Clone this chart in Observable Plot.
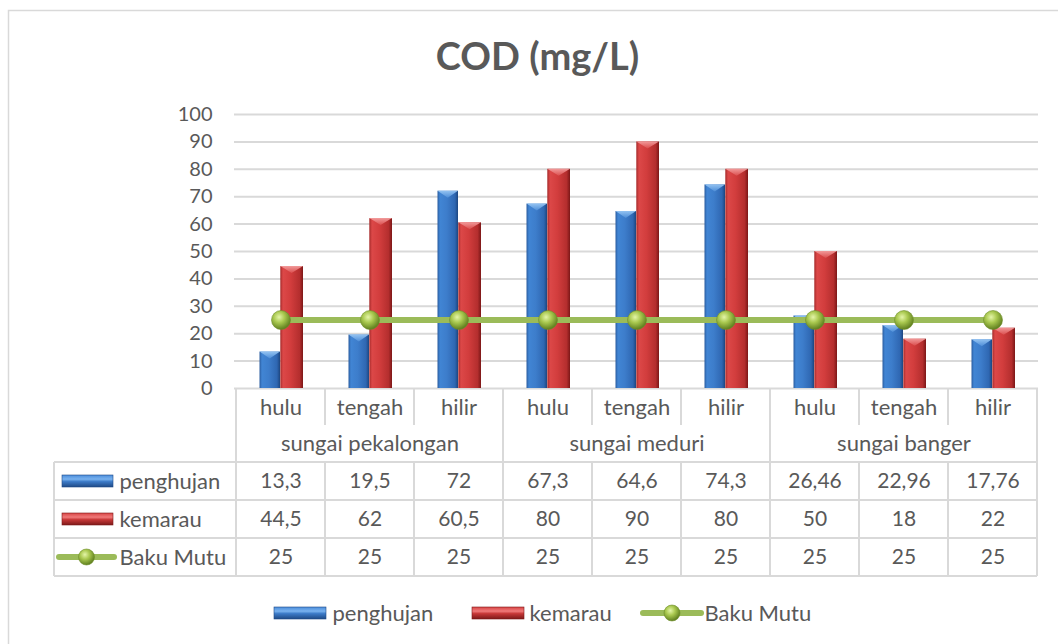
<!DOCTYPE html>
<html><head><meta charset="utf-8">
<script src="https://cdn.jsdelivr.net/npm/d3@7"></script>
<script src="https://cdn.jsdelivr.net/npm/@observablehq/plot@0.6"></script>
<style>
html,body{margin:0;background:#fff;overflow:hidden;}
#chart{position:relative;width:1058px;height:644px;overflow:hidden;}
</style></head><body><div id="chart"></div>
<script>
const stations = ["hulu","tengah","hilir","hulu","tengah","hilir","hulu","tengah","hilir"];
const rivers = ["sungai pekalongan","sungai pekalongan","sungai pekalongan","sungai meduri","sungai meduri","sungai meduri","sungai banger","sungai banger","sungai banger"];
const penghujan = [13.3,19.5,72,67.3,64.6,74.3,26.46,22.96,17.76];
const kemarau = [44.5,62,60.5,80,90,80,50,18,22];
const bakuMutu = [25,25,25,25,25,25,25,25,25];
const yTicks = [0,10,20,30,40,50,60,70,80,90,100];
const seriesNames = ["penghujan","kemarau","Baku Mutu"];
const titleText = "COD (mg/L)";

const keys = stations.map((s,i)=>`${rivers[i]}|${s}`);
const data = keys.map((k,i)=>({key:k, station:stations[i], river:rivers[i], penghujan:penghujan[i], kemarau:kemarau[i], baku:bakuMutu[i]}));
const fmt = v => String(v).replace(".", ",");
const riverGroups = d3.groups(data, d=>d.river).map(([river, rows]) => ({river, key: rows[Math.floor(rows.length/2)].key}));

const FONT = "Lato, 'Open Sans', sans-serif";
const TXT = "#595959";
const GRID = "#d9d9d9";
const ML = 234, MR = 20;
const BLUE_IN = [23.5, 45], RED_IN = [44.3, 22];

const defs = () => {
  const g = document.createElementNS("http://www.w3.org/2000/svg","defs");
  g.innerHTML = `
  <linearGradient id="gBlue" x1="0" x2="1" y1="0" y2="0">
    <stop offset="0" stop-color="#2a5c9f"/><stop offset="0.12" stop-color="#4185d4"/>
    <stop offset="0.45" stop-color="#3d7dcb"/><stop offset="0.85" stop-color="#2f67b2"/><stop offset="1" stop-color="#1d4680"/>
  </linearGradient>
  <linearGradient id="gRed" x1="0" x2="1" y1="0" y2="0">
    <stop offset="0" stop-color="#a52a2a"/><stop offset="0.12" stop-color="#dc4848"/>
    <stop offset="0.45" stop-color="#d23d3d"/><stop offset="0.85" stop-color="#b42e2e"/><stop offset="1" stop-color="#7c1717"/>
  </linearGradient>
  <linearGradient id="gBlueV" x1="0" x2="0" y1="0" y2="1">
    <stop offset="0" stop-color="#4b8ddb"/><stop offset="0.35" stop-color="#79b2ef"/><stop offset="0.55" stop-color="#3c7bc8"/><stop offset="1" stop-color="#1f4a86"/>
  </linearGradient>
  <linearGradient id="gRedV" x1="0" x2="0" y1="0" y2="1">
    <stop offset="0" stop-color="#d84545"/><stop offset="0.35" stop-color="#f07a7a"/><stop offset="0.55" stop-color="#c73838"/><stop offset="1" stop-color="#7e1a1a"/>
  </linearGradient>
  <radialGradient id="gGreen" cx="0.4" cy="0.35" r="0.65">
    <stop offset="0" stop-color="#e4f5a8"/><stop offset="0.45" stop-color="#a9c84f"/><stop offset="1" stop-color="#5f7f1f"/>
  </radialGradient>
  <linearGradient id="gTriB" x1="0" x2="0" y1="0" y2="1">
    <stop offset="0" stop-color="#9ccaf6"/><stop offset="1" stop-color="#4f8fd9"/>
  </linearGradient>
  <linearGradient id="gTriR" x1="0" x2="0" y1="0" y2="1">
    <stop offset="0" stop-color="#f5a3a3"/><stop offset="1" stop-color="#dc5050"/>
  </linearGradient>`;
  return g;
};

const common = {fontFamily: FONT, fill: TXT, fontSize: 22, lineAnchor: "middle"};
const numStyle = {fontFamily: FONT, fill: TXT, fontSize: 21, lineAnchor: "middle"};
const rowDy = [93, 131, 169];

const plot = Plot.plot({
  width: 1058, height: 644,
  marginTop: 114, marginBottom: 256, marginLeft: ML, marginRight: MR,
  style: {fontFamily: FONT, fontSize: "20px", color: TXT, background: "transparent"},
  x: {type: "band", domain: keys, padding: 0, axis: null},
  y: {domain: [0, 100], axis: null},
  marks: [
    defs,
    Plot.gridY(yTicks, {stroke: GRID, strokeOpacity: 1, strokeWidth: 2}),
    Plot.axisY(yTicks, {tickSize: 0, tickPadding: 22, label: null, fill: TXT, fontSize: 20, fontFamily: FONT}),
    Plot.barY(data, {x: "key", y: "penghujan", fill: "url(#gBlue)", insetLeft: BLUE_IN[0], insetRight: BLUE_IN[1]}),
    Plot.barY(data, {x: "key", y: "kemarau", fill: "url(#gRed)", insetLeft: RED_IN[0], insetRight: RED_IN[1]}),
    Plot.lineY(data, {x: "key", y: "baku", stroke: "#9bbb59", strokeWidth: 6}),
    Plot.dot(data, {x: "key", y: "baku", r: 9.5, fill: "url(#gGreen)", stroke: "#6f8f2a", strokeWidth: 0.6}),
    // title
    Plot.text([titleText], {frameAnchor: "top", dx: -99, dy: -57, text: d => d, fontFamily: FONT, fontWeight: "bold", fontSize: 38, fill: TXT, lineAnchor: "middle"}),
    // table: category row + group row
    Plot.text(data, {x: "key", text: "station", frameAnchor: "bottom", dy: 19, ...common}),
    Plot.text(riverGroups, {x: "key", text: "river", frameAnchor: "bottom", dy: 55, ...common}),
    // value rows
    Plot.text(data, {x: "key", text: d => fmt(d.penghujan), frameAnchor: "bottom", dy: rowDy[0], ...numStyle}),
    Plot.text(data, {x: "key", text: d => fmt(d.kemarau), frameAnchor: "bottom", dy: rowDy[1], ...numStyle}),
    Plot.text(data, {x: "key", text: d => fmt(d.baku), frameAnchor: "bottom", dy: rowDy[2], ...numStyle}),
    // row labels
    ...seriesNames.map((n, i) => Plot.text([n], {text: d => d, frameAnchor: "bottom-left", textAnchor: "start", dx: 119 - ML, dy: rowDy[i], ...common})),
    // bottom legend labels
    Plot.text([seriesNames[0]], {text: d => d, frameAnchor: "bottom-left", textAnchor: "start", dx: 332 - ML, dy: 225, ...common}),
    Plot.text([seriesNames[1]], {text: d => d, frameAnchor: "bottom-left", textAnchor: "start", dx: 529 - ML, dy: 225, ...common}),
    Plot.text([seriesNames[2]], {text: d => d, frameAnchor: "bottom-left", textAnchor: "start", dx: 704 - ML, dy: 225, ...common})
  ]
});

document.getElementById("chart").appendChild(plot);

const svg = d3.select(plot);
const xs = plot.scale("x");
const ys = plot.scale("y");
const bw = xs.bandwidth;

// bevelled tops of the bars (light triangle), positioned with the plot's scales
const caps = svg.append("g");
data.forEach(d => {
  const xb = xs.apply(d.key);
  [[d.penghujan, xb + BLUE_IN[0], xb + bw - BLUE_IN[1], "url(#gTriB)"], [d.kemarau, xb + RED_IN[0], xb + bw - RED_IN[1], "url(#gTriR)"]].forEach(([v, a, b, f]) => {
    const yt = ys.apply(v);
    const h = Math.min(7, ys.apply(0) - yt);
    caps.append("path").attr("d", `M${a},${yt}L${b},${yt}L${(a + b) / 2},${yt + h}Z`).attr("fill", f).attr("opacity", 0.9);
  });
});
svg.selectAll("g[aria-label='line'], g[aria-label='dot']").raise();

// table grid using the plot's own x scale
const yTop = 388, yCatEnd = 425, yRow1 = 462, yEnd = 576, xLeft = 54;
const xRight = xs.apply(keys[keys.length - 1]) + bw;
const grid = svg.append("g").attr("stroke", GRID).attr("stroke-width", 2).attr("fill", "none");
keys.forEach((k, i) => {
  const xb = xs.apply(k);
  const groupStart = i === 0 || rivers[i] !== rivers[i - 1];
  if (groupStart) grid.append("line").attr("x1", xb).attr("x2", xb).attr("y1", yTop).attr("y2", yEnd);
  else {
    grid.append("line").attr("x1", xb).attr("x2", xb).attr("y1", yTop).attr("y2", yCatEnd);
    grid.append("line").attr("x1", xb).attr("x2", xb).attr("y1", yRow1).attr("y2", yEnd);
  }
});
grid.append("line").attr("x1", xRight).attr("x2", xRight).attr("y1", yTop).attr("y2", yEnd);
grid.append("line").attr("x1", xLeft).attr("x2", xLeft).attr("y1", yRow1).attr("y2", yEnd);
[462, 500, 538, 576].forEach(y => grid.append("line").attr("x1", xLeft).attr("x2", xRight).attr("y1", y).attr("y2", y));

// outer chart border (top and left edges visible)
svg.append("path").attr("d", "M8.5,644V10.5H1058").attr("fill", "none").attr("stroke", GRID).attr("stroke-width", 1.5);

function swatch(g, kind, x, yc, w) {
  if (kind === 0 || kind === 1) {
    g.append("rect").attr("x", x).attr("y", yc - 6).attr("width", w).attr("height", 12)
      .attr("fill", kind === 0 ? "url(#gBlueV)" : "url(#gRedV)")
      .attr("stroke", kind === 0 ? "#1f4a86" : "#7e1a1a").attr("stroke-width", 0.6);
  } else {
    g.append("line").attr("x1", x).attr("x2", x + w).attr("y1", yc).attr("y2", yc)
      .attr("stroke", "#9bbb59").attr("stroke-width", 6).attr("stroke-linecap", "round");
    g.append("circle").attr("cx", x + w / 2).attr("cy", yc).attr("r", 8)
      .attr("fill", "url(#gGreen)").attr("stroke", "#6f8f2a").attr("stroke-width", 0.6);
  }
}
const sw = svg.append("g");
swatch(sw, 0, 62, 481, 51);
swatch(sw, 1, 62, 519, 51);
swatch(sw, 2, 59, 557, 55);
swatch(sw, 0, 274, 613, 52);
swatch(sw, 1, 472, 613, 52);
swatch(sw, 2, 643, 613, 58);
</script></body></html>
